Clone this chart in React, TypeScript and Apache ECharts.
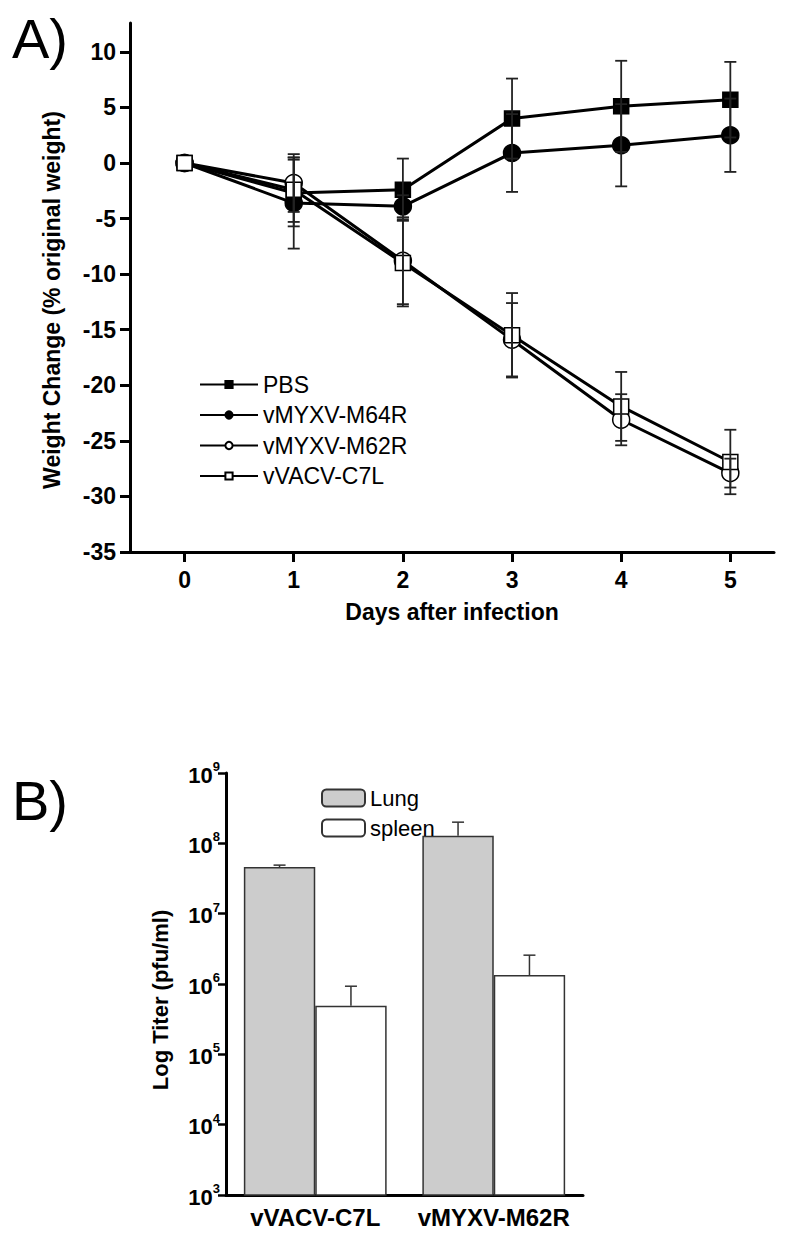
import React, { useEffect, useRef } from "react";
import * as echarts from "echarts";

// ---------- Panel A data ----------
const days = [0, 1, 2, 3, 4, 5];
const seriesNames = ["PBS", "vMYXV-M64R", "vMYXV-M62R", "vVACV-C7L"];
const pbsMean = [0, -2.7, -2.4, 4.0, 5.1, 5.7];
const pbsSd = [0, 3.0, 2.8, 3.6, 4.1, 3.4];
const m64rMean = [0, -3.6, -3.9, 0.9, 1.6, 2.5];
const m64rSd = [0, 4.1, 1.0, 3.5, 3.7, 3.3];
const m62rMean = [0, -1.8, -8.8, -15.9, -23.1, -27.9];
const m62rSd = [0, 2.6, 3.9, 3.3, 2.3, 1.3];
const c7lMean = [0, -2.4, -9.0, -15.5, -21.9, -26.9];
const c7lSd = [0, 2.9, 3.9, 3.8, 3.1, 2.9];
const yTicksA = [-35, -30, -25, -20, -15, -10, -5, 0, 5, 10];

// ---------- Panel B data ----------
const groupsB = ["vVACV-C7L", "vMYXV-M62R"];
const lungTiter = [4.6e7, 1.28e8];
const lungUpper = [4.9e7, 2.0e8];
const spleenTiter = [4.9e5, 1.34e6];
const spleenUpper = [9.3e5, 2.57e6];

const FONT = "'Liberation Sans', Arial, Helvetica, sans-serif";

export default function App() {
  const ref = useRef<HTMLDivElement>(null);
  useEffect(() => {
    if (!ref.current) return;
    const chart = echarts.init(ref.current, null, { renderer: "svg" });

    const means = [pbsMean, m64rMean, m62rMean, c7lMean];
    const sds = [pbsSd, m64rSd, m62rSd, c7lSd];
    const symbols = ["rect", "circle", "circle", "rect"];
    const symSizes = [15, 17, 17, 15];
    const fills = ["#000", "#000", "#fff", "#fff"];

    const lineSeries: any[] = seriesNames.map((name, i) => ({
      type: "line",
      name,
      xAxisIndex: 0,
      yAxisIndex: 0,
      data: days.map((d, k) => [d, means[i][k]]),
      symbol: symbols[i],
      symbolSize: symSizes[i],
      lineStyle: { color: "#000", width: 3 },
      itemStyle: { color: fills[i], borderColor: "#000", borderWidth: 1.5 },
      z: 2 + i * 0.1,
    }));

    const errSeries: any[] = seriesNames.map((name, i) => ({
      type: "custom",
      name: name + " SD",
      xAxisIndex: 0,
      yAxisIndex: 0,
      z: 3,
      encode: { x: 0, y: [1, 2] },
      data: days
        .map((d, k) => [d, means[i][k] - sds[i][k], means[i][k] + sds[i][k]])
        .filter((r, k) => sds[i][k] > 0),
      renderItem: (params: any, api: any) => {
        const x = api.value(0);
        const lo = api.coord([x, api.value(1)]);
        const hi = api.coord([x, api.value(2)]);
        const hw = 6;
        const st = { stroke: "#222", lineWidth: 1.8 };
        return {
          type: "group",
          children: [
            { type: "line", shape: { x1: hi[0], y1: hi[1], x2: lo[0], y2: lo[1] }, style: st },
            { type: "line", shape: { x1: hi[0] - hw, y1: hi[1], x2: hi[0] + hw, y2: hi[1] }, style: st },
            { type: "line", shape: { x1: lo[0] - hw, y1: lo[1], x2: lo[0] + hw, y2: lo[1] }, style: st },
          ],
        };
      },
    }));

    const barBase = {
      type: "bar",
      xAxisIndex: 1,
      yAxisIndex: 1,
      barWidth: "40%",
      barGap: "0%",
    };

    const barErr = (vals: number[], uppers: number[], sign: number, name: string) => ({
      type: "custom",
      name,
      xAxisIndex: 1,
      yAxisIndex: 1,
      z: 3,
      encode: { x: 0, y: [1, 2] },
      data: vals.map((v, k) => [k, v, uppers[k]]),
      renderItem: (params: any, api: any) => {
        const band = api.size([1, 0])[0];
        const off = sign * band * 0.2;
        const p0 = api.coord([api.value(0), api.value(1)]);
        const p1 = api.coord([api.value(0), api.value(2)]);
        const x = p0[0] + off;
        const hw = 6;
        const st = { stroke: "#333", lineWidth: 1.5 };
        return {
          type: "group",
          children: [
            { type: "line", shape: { x1: x, y1: p0[1], x2: x, y2: p1[1] }, style: st },
            { type: "line", shape: { x1: x - hw, y1: p1[1], x2: x + hw, y2: p1[1] }, style: st },
          ],
        };
      },
    });

    const option: any = {
      animation: false,
      backgroundColor: "#fff",
      textStyle: { fontFamily: FONT, color: "#000" },
      grid: [
        { left: 130, top: 23, width: 644, height: 529 },
        { left: 226, top: 773, width: 357, height: 422 },
      ],
      xAxis: [
        {
          type: "value",
          gridIndex: 0,
          min: -0.5,
          max: 5.4,
          splitLine: { show: false },
          axisLine: { show: true, onZero: false, lineStyle: { color: "#000", width: 3 } },
          axisTick: { show: true, length: 10, lineStyle: { color: "#000", width: 3 }, customValues: days },
          axisLabel: {
            customValues: days,
            fontFamily: FONT,
            fontWeight: "bold",
            fontSize: 23,
            color: "#000",
            margin: 16,
          },
        },
        {
          type: "category",
          gridIndex: 1,
          data: groupsB,
          axisLine: { show: true, lineStyle: { color: "#000", width: 3 } },
          axisTick: { show: false },
          axisLabel: {
            interval: 0,
            hideOverlap: false,
            fontFamily: FONT,
            fontWeight: "bold",
            fontSize: 24,
            color: "#000",
            margin: 10,
          },
        },
      ],
      yAxis: [
        {
          type: "value",
          gridIndex: 0,
          min: -35,
          max: 12.6,
          splitLine: { show: false },
          axisLine: { show: true, onZero: false, lineStyle: { color: "#000", width: 3 } },
          axisTick: { show: true, length: 10, lineStyle: { color: "#000", width: 3 }, customValues: yTicksA },
          axisLabel: {
            customValues: yTicksA,
            fontFamily: FONT,
            fontWeight: "bold",
            fontSize: 23,
            color: "#000",
            margin: 14,
          },
        },
        {
          type: "log",
          gridIndex: 1,
          logBase: 10,
          min: 1e3,
          max: 1e9,
          splitNumber: 6,
          splitLine: { show: false },
          minorTick: { show: false },
          axisLine: { show: true, lineStyle: { color: "#000", width: 3 } },
          axisTick: { show: true, length: 8, lineStyle: { color: "#000", width: 2.5 } },
          axisLabel: {
            margin: 6,
            formatter: (v: number) => `{b|10}{s|${Math.round(Math.log10(v))}}`,
            rich: {
              b: { fontFamily: FONT, fontWeight: "bold", fontSize: 22, color: "#000", lineHeight: 26, verticalAlign: "bottom" },
              s: { fontFamily: FONT, fontWeight: "bold", fontSize: 13, color: "#000", lineHeight: 26, verticalAlign: "top" },
            },
          },
        },
      ],
      legend: [
        {
          data: seriesNames,
          orient: "vertical",
          left: 194,
          top: 368,
          itemWidth: 58,
          itemHeight: 9,
          itemGap: 7.5,
          textStyle: { fontFamily: FONT, fontSize: 23, color: "#000", lineHeight: 23 },
        },
        {
          data: ["Lung", "spleen"],
          orient: "vertical",
          left: 316,
          top: 782,
          itemWidth: 43,
          itemHeight: 17,
          itemGap: 8,
          textStyle: { fontFamily: FONT, fontSize: 22, color: "#000" },
        },
      ],
      graphic: [
        { type: "text", left: 12, top: 10, style: { text: "A)", fontFamily: FONT, fontSize: 56, fill: "#000" } },
        { type: "text", left: 12, top: 772, style: { text: "B)", fontFamily: FONT, fontSize: 56, fill: "#000" } },
        {
          type: "text",
          x: 52,
          y: 300,
          rotation: Math.PI / 2,
          style: {
            text: "Weight Change (% original weight)",
            fontFamily: FONT,
            fontWeight: "bold",
            fontSize: 23,
            fill: "#000",
            align: "center",
            verticalAlign: "middle",
          },
        },
        {
          type: "text",
          x: 452,
          y: 612,
          style: {
            text: "Days after infection",
            fontFamily: FONT,
            fontWeight: "bold",
            fontSize: 23,
            fill: "#000",
            align: "center",
            verticalAlign: "middle",
          },
        },
        {
          type: "text",
          x: 160,
          y: 1000,
          rotation: Math.PI / 2,
          style: {
            text: "Log Titer (pfu/ml)",
            fontFamily: FONT,
            fontWeight: "bold",
            fontSize: 22,
            fill: "#000",
            align: "center",
            verticalAlign: "middle",
          },
        },
      ],
      series: [
        ...lineSeries,
        ...errSeries,
        {
          ...barBase,
          name: "Lung",
          data: lungTiter,
          itemStyle: { color: "#cccccc", borderColor: "#333", borderWidth: 1.5 },
        },
        {
          ...barBase,
          name: "spleen",
          data: spleenTiter,
          itemStyle: { color: "#ffffff", borderColor: "#333", borderWidth: 1.5 },
        },
        barErr(lungTiter, lungUpper, -1, "Lung SD"),
        barErr(spleenTiter, spleenUpper, 1, "spleen SD"),
      ],
    };

    chart.setOption(option);
    return () => chart.dispose();
  }, []);

  return (
    <div
      ref={ref}
      style={{ position: "absolute", left: 0, top: 0, width: 800, height: 1238, background: "#fff" }}
    />
  );
}
